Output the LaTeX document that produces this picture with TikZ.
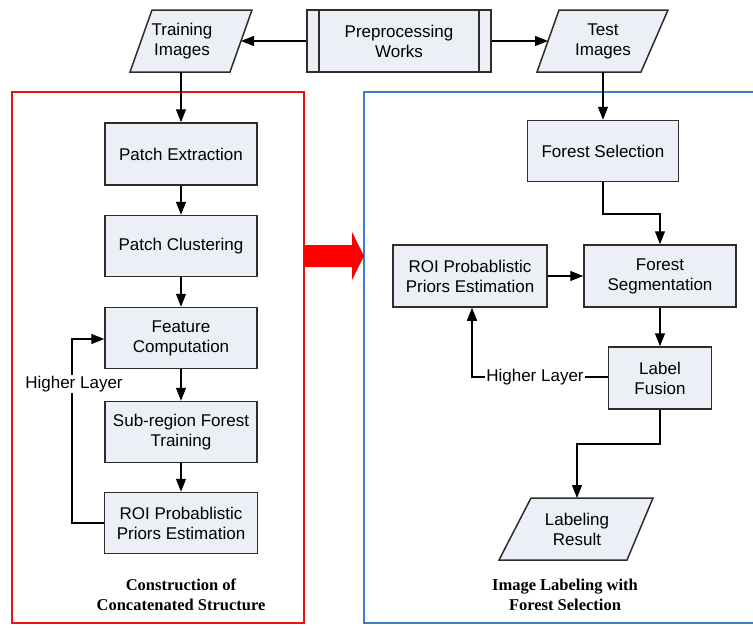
\documentclass[tikz,border=0pt]{standalone}
\usepackage{fontspec}
\setmainfont{Liberation Sans}
\newfontfamily\capfont{Liberation Serif}
\usetikzlibrary{arrows.meta}
\definecolor{boxfill}{RGB}{236,239,245}
\definecolor{boxline}{RGB}{45,45,45}
\definecolor{redframe}{RGB}{230,20,20}
\definecolor{blueframe}{RGB}{60,125,205}
\tikzset{
  procbox/.style={draw=boxline, fill=boxfill, line width=1.5pt, align=center,
    inner sep=0pt, font=\fontsize{17}{20}\selectfont},
  paratext/.style={align=center, inner sep=0pt, font=\fontsize{17}{20}\selectfont},
  parashape/.style={draw=boxline, fill=boxfill, line width=1.5pt},
  conn/.style={draw=black, line width=1.3pt, -{Triangle[length=13pt,width=10pt]}},
  looplabel/.style={fill=white, inner sep=1pt, font=\fontsize{17}{20}\selectfont},
  caption/.style={align=center, font=\capfont\bfseries\fontsize{16.5}{20}\selectfont},
}
\begin{document}
\begin{tikzpicture}[x=1pt,y=-1pt]
\useasboundingbox (0,0) rectangle (753,629);
\begin{scope}
\clip (0,0) rectangle (753,629);
% frames
\draw[redframe, line width=2pt] (12,92) rectangle (304,623);
\draw[blueframe, line width=2pt] (364,92) rectangle (770,623);
\end{scope}
% big red arrow
\fill[red] (304,245) -- (352,245) -- (352,232) -- (364,256) -- (352,280) -- (352,267) -- (304,267) -- cycle;

% top row
\node[procbox, minimum width=184pt, minimum height=62pt] (pre) at (399,41) {Preprocessing\\Works};
\draw[boxline, line width=1.5pt] (319,10) -- (319,72) (479,10) -- (479,72);
\draw[parashape] (130,72) -- (152,10) -- (252,10) -- (230,72) -- cycle;
\node[paratext] (ti) at (182,41) {Training\\Images};
\coordinate (tiR) at (241,41);
\coordinate (tiB) at (181,72);
\draw[parashape] (537,72) -- (559,10) -- (668,10) -- (641,72) -- cycle;
\node[paratext] (te) at (603,41) {Test\\Images};
\coordinate (teL) at (548,41);
\coordinate (teB) at (603,72);

% left column
\node[procbox, minimum width=152pt, minimum height=62pt] (pe) at (181,154) {Patch Extraction};
\node[procbox, minimum width=152pt, minimum height=61pt] (pc) at (181,246) {Patch Clustering};
\node[procbox, minimum width=152pt, minimum height=61pt] (fc) at (181,338) {Feature\\Computation};
\node[procbox, minimum width=152pt, minimum height=61pt] (sf) at (181,432) {Sub-region Forest\\Training};
\node[procbox, minimum width=153pt, minimum height=61pt] (roil) at (181,523) {ROI Probablistic\\Priors Estimation};
\node[caption] (capl) at (181,595) {Construction of\\Concatenated Structure};

% right column
\node[procbox, minimum width=151pt, minimum height=61pt] (fs) at (603,151) {Forest Selection};
\node[procbox, minimum width=152pt, minimum height=62pt] (fseg) at (660,276) {Forest\\Segmentation};
\node[procbox, minimum width=154pt, minimum height=62pt] (roir) at (470,276) {ROI Probablistic\\Priors Estimation};
\node[procbox, minimum width=103pt, minimum height=62pt] (lf) at (660,378) {Label\\Fusion};
\draw[parashape] (499,560) -- (531,498) -- (653,498) -- (627,560) -- cycle;
\node[paratext] (lr) at (577,529) {Labeling\\Result};
\coordinate (lrT) at (577,498);
\node[caption] (capr) at (565,595) {Image Labeling with\\Forest Selection};

% connectors top
\draw[conn] (pre.west) -- (tiR);
\draw[conn] (pre.east) -- (teL);
\draw[conn] (tiB) -- (pe.north);
\draw[conn] (teB) -- (fs.north);

% left chain
\draw[conn] (pe) -- (pc);
\draw[conn] (pc) -- (fc);
\draw[conn] (fc) -- (sf);
\draw[conn] (sf) -- (roil);
\coordinate (hlA) at (72,523);
\coordinate (hlB) at (72,339);
\draw[conn] (roil.west) -- (hlA) -- (hlB) -- (fc.west |- hlB);
\node[looplabel] (hll) at (74,384) {Higher Layer};

% right chain
\coordinate (fsA) at (603,214);
\coordinate (fsB) at (660,214);
\draw[conn] (fs.south) -- (fsA) -- (fsB) -- (fseg.north);
\draw[conn] (roir.east) -- (fseg.west);
\draw[conn] (fseg) -- (lf);
\coordinate (hrA) at (472,377);
\draw[conn] (lf.west |- hrA) -- (hrA) -- (hrA |- roir.south);
\node[looplabel] (hlr) at (535,377) {Higher Layer};
\coordinate (lfA) at (660,444);
\coordinate (lfB) at (577,444);
\draw[conn] (lf.south) -- (lfA) -- (lfB) -- (lrT);
\end{tikzpicture}
\end{document}
